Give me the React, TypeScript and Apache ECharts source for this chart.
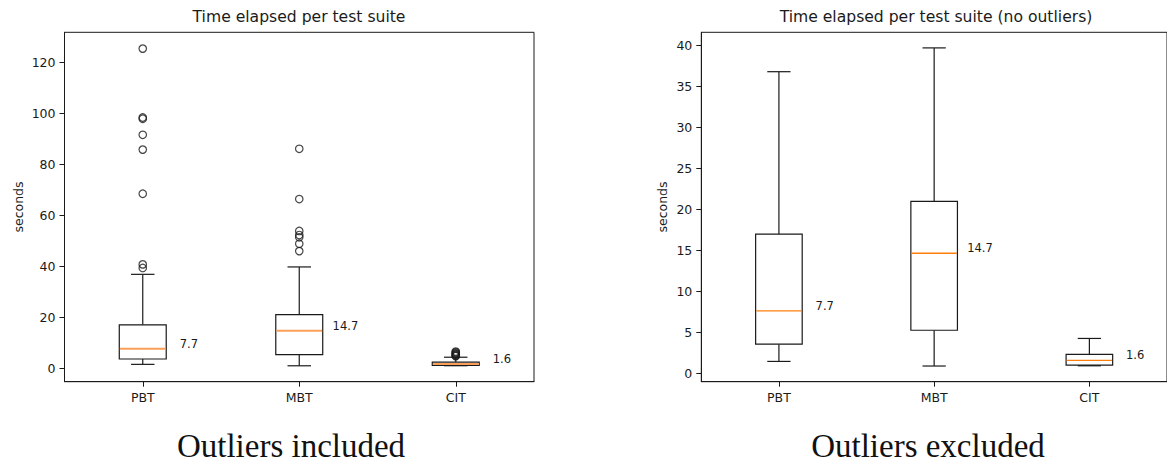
import React, { useEffect, useRef } from "react";
import * as echarts from "echarts";

const categories = ["PBT", "MBT", "CIT"];
// [low whisker, Q1, median, Q3, high whisker]
const pbtBox = [1.5, 3.6, 7.65, 17.0, 36.8];
const mbtBox = [0.94, 5.3, 14.68, 21.0, 39.7];
const citBox = [0.97, 1.06, 1.62, 2.36, 4.3];
const medianLabels = ["7.7", "14.7", "1.6"];
const pbtOutliers = [125.3, 98.3, 97.8, 91.5, 85.7, 68.4, 40.7, 39.3];
const mbtOutliers = [86.0, 66.3, 53.8, 52.2, 51.3, 48.8, 45.9];
const citOutliers = [6.5, 6.2, 5.8, 5.5, 5.2, 4.9, 4.7];
const leftTicks = [0, 20, 40, 60, 80, 100, 120];
const rightTicks = [0, 5, 10, 15, 20, 25, 30, 35, 40];
const leftRange = [-5.3, 131.7];
const rightRange = [-0.97, 41.6];
const titles = ["Time elapsed per test suite", "Time elapsed per test suite (no outliers)"];
const captions = ["Outliers included", "Outliers excluded"];
const yName = "seconds";

const SANS = "'DejaVu Sans', sans-serif";
const INK = "#1a1a1a";
const TICK_FONT = 12.5;
const medianStyles = [
  { stroke: "#fb9f58", lineWidth: 2 },
  { stroke: "#ff7f0e", lineWidth: 1.3 },
];

const boxes = [pbtBox, mbtBox, citBox];
const boxDataFor = (panel: number) => boxes.map((b, i) => [i + 1, ...b, i, panel]);

function renderBox(params: any, api: any) {
  const x = api.value(0);
  const low = api.coord([x, api.value(1)]);
  const q1 = api.coord([x, api.value(2)]);
  const med = api.coord([x, api.value(3)]);
  const q3 = api.coord([x, api.value(4)]);
  const high = api.coord([x, api.value(5)]);
  const idx = api.value(6);
  const panel = api.value(7);
  const halfBox = api.size([0.15, 0])[0];
  const halfCap = api.size([0.075, 0])[0];
  const cx = low[0];
  const lineStyle = { stroke: INK, lineWidth: 1.2, fill: null };
  const labelPos = api.coord([x + 0.295, api.value(3)]);
  return {
    type: "group",
    children: [
      { type: "line", shape: { x1: cx, y1: low[1], x2: cx, y2: q1[1] }, style: lineStyle },
      { type: "line", shape: { x1: cx, y1: q3[1], x2: cx, y2: high[1] }, style: lineStyle },
      { type: "line", shape: { x1: cx - halfCap, y1: low[1], x2: cx + halfCap, y2: low[1] }, style: lineStyle },
      { type: "line", shape: { x1: cx - halfCap, y1: high[1], x2: cx + halfCap, y2: high[1] }, style: lineStyle },
      {
        type: "rect",
        shape: { x: cx - halfBox, y: q3[1], width: halfBox * 2, height: q1[1] - q3[1] },
        style: { stroke: INK, lineWidth: 1.2, fill: "#fff" },
      },
      {
        type: "line",
        shape: { x1: cx - halfBox + 0.6, y1: med[1], x2: cx + halfBox - 0.6, y2: med[1] },
        style: medianStyles[panel],
      },
      {
        type: "text",
        x: labelPos[0],
        y: labelPos[1] - 5,
        style: {
          text: medianLabels[idx],
          fill: INK,
          font: `11.5px ${SANS}`,
          align: "center",
          verticalAlign: "middle",
        },
      },
    ],
  };
}

function outlierPoints(): number[][] {
  const pts: number[][] = [];
  pbtOutliers.forEach((v) => pts.push([1, v]));
  mbtOutliers.forEach((v) => pts.push([2, v]));
  citOutliers.forEach((v) => pts.push([3, v]));
  return pts;
}

function makeXAxis(gridIndex: number) {
  return {
    type: "value",
    gridIndex,
    min: 0.5,
    max: 3.5,
    splitLine: { show: false },
    axisLine: { show: true, onZero: false, lineStyle: { color: INK, width: 1 } },
    axisTick: { show: true, length: 5, customValues: [1, 2, 3], lineStyle: { color: INK } },
    axisLabel: {
      customValues: [1, 2, 3],
      formatter: (v: number) => categories[Math.round(v) - 1] ?? "",
      color: INK,
      fontFamily: SANS,
      fontSize: TICK_FONT,
      margin: 9,
    },
  };
}

function makeYAxis(gridIndex: number, range: number[], ticks: number[]) {
  return {
    type: "value",
    gridIndex,
    min: range[0],
    max: range[1],
    splitLine: { show: false },
    axisLine: { show: true, onZero: false, lineStyle: { color: INK, width: 1 } },
    axisTick: { show: true, length: 5, customValues: ticks, lineStyle: { color: INK } },
    axisLabel: {
      customValues: ticks,
      color: INK,
      fontFamily: SANS,
      fontSize: TICK_FONT,
      margin: 9,
    },
  };
}

export default function App() {
  const ref = useRef<HTMLDivElement>(null);
  useEffect(() => {
    if (!ref.current) return;
    const chart = echarts.init(ref.current, null, { renderer: "svg" });
    const gridTop = 32.3;
    const gridH = 349.4;
    const option: any = {
      animation: false,
      backgroundColor: "#fff",
      grid: [
        { left: 64.5, top: gridTop, width: 469.5, height: gridH, show: true, borderColor: INK, borderWidth: 1, backgroundColor: "transparent" },
        { left: 701.3, top: gridTop, width: 470, height: gridH, show: true, borderColor: INK, borderWidth: 1, backgroundColor: "transparent" },
      ],
      xAxis: [makeXAxis(0), makeXAxis(1)],
      yAxis: [makeYAxis(0, leftRange, leftTicks), makeYAxis(1, rightRange, rightTicks)],
      series: [
        {
          type: "custom",
          xAxisIndex: 0,
          yAxisIndex: 0,
          renderItem: renderBox,
          data: boxDataFor(0),
          z: 2,
        },
        {
          type: "scatter",
          xAxisIndex: 0,
          yAxisIndex: 0,
          data: outlierPoints(),
          symbol: "circle",
          symbolSize: 7.5,
          itemStyle: { color: "rgba(0,0,0,0)", borderColor: INK, borderWidth: 1.2 },
          z: 3,
        },
        {
          type: "custom",
          xAxisIndex: 1,
          yAxisIndex: 1,
          renderItem: renderBox,
          data: boxDataFor(1),
          z: 2,
        },
      ],
      graphic: [
        { type: "text", x: 299, y: 16.5, style: { text: titles[0], fill: INK, font: `15.6px ${SANS}`, align: "center", verticalAlign: "middle" } },
        { type: "text", x: 936, y: 16.5, style: { text: titles[1], fill: INK, font: `15.6px ${SANS}`, align: "center", verticalAlign: "middle" } },
        { type: "text", x: 18, y: 207, rotation: Math.PI / 2, style: { text: yName, fill: INK, font: `12.5px ${SANS}`, align: "center", verticalAlign: "middle" } },
        { type: "text", x: 662, y: 207, rotation: Math.PI / 2, style: { text: yName, fill: INK, font: `12.5px ${SANS}`, align: "center", verticalAlign: "middle" } },
        { type: "text", x: 291, y: 446, style: { text: captions[0], fill: "#111", font: `33px 'Liberation Serif', serif`, align: "center", verticalAlign: "middle" } },
        { type: "text", x: 928, y: 446, style: { text: captions[1], fill: "#111", font: `33px 'Liberation Serif', serif`, align: "center", verticalAlign: "middle" } },
      ],
    };
    chart.setOption(option);
    return () => chart.dispose();
  }, []);
  return <div ref={ref} style={{ position: "fixed", left: 0, top: 0, width: 1167, height: 475 }} />;
}
